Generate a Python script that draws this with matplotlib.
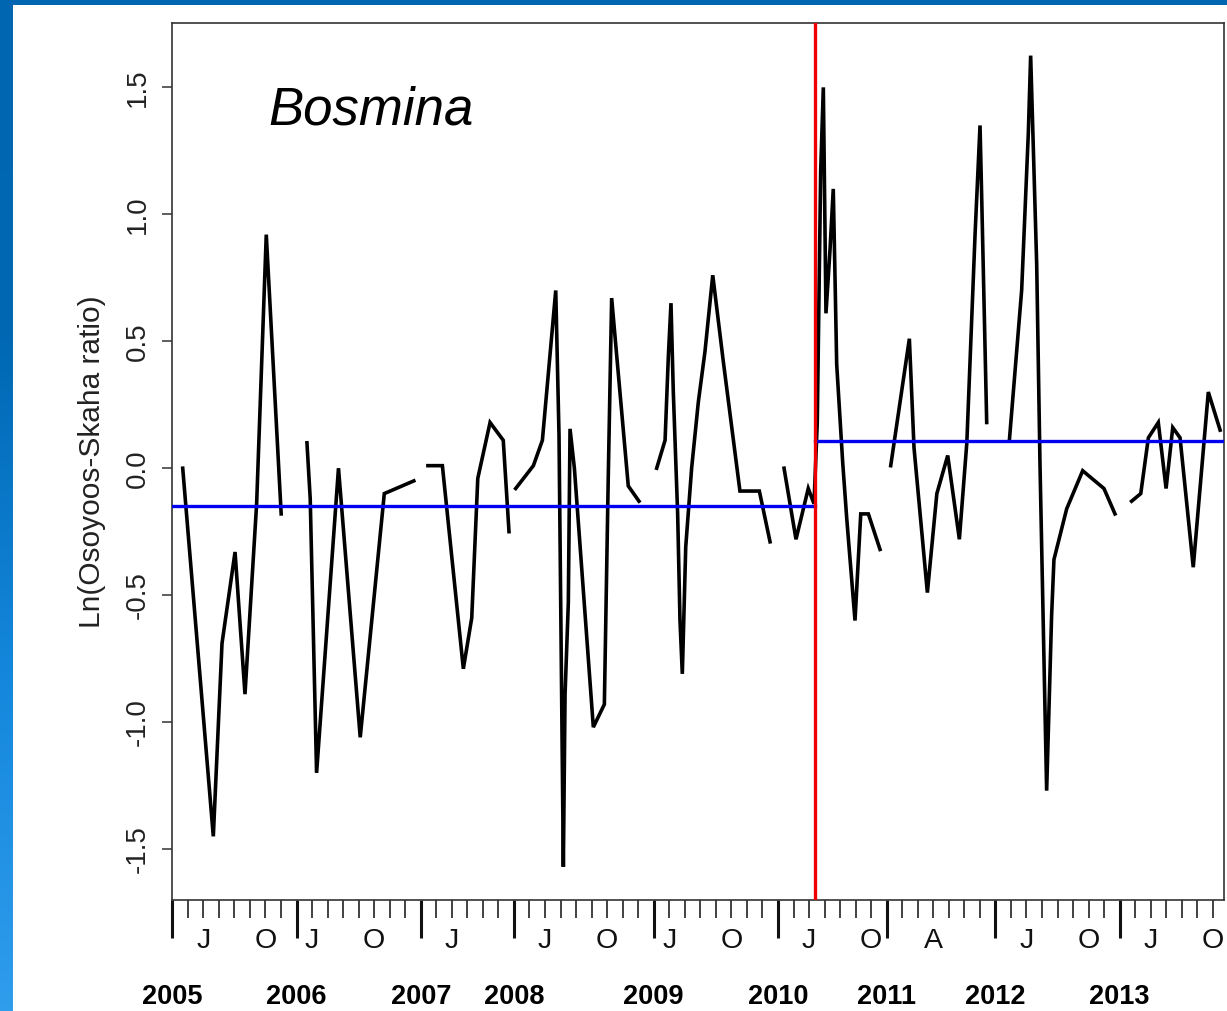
import numpy as np
import matplotlib
matplotlib.use("Agg")
import matplotlib.pyplot as plt
from matplotlib.colors import LinearSegmentedColormap
from matplotlib.transforms import blended_transform_factory
from matplotlib import font_manager

plt.rcParams['font.family'] = ['Liberation Sans', 'DejaVu Sans']

# sample index (position on the axis) and log ratio; None marks a gap in the series
idx = [0.67, 2.64, 3.20, 4.04, 4.68, 5.43, 6.05, 7.01, None,
       8.67, 8.88, 9.29, 10.70, 12.10, 13.65, 15.55, None,
       16.46, 17.39, 18.74, 19.28, 19.67, 20.46, 21.31, 21.68, None,
       22.11, 23.25, 23.83, 24.69, 24.90, 25.18, 25.29, 25.50, 25.61, 25.89,
       27.11, 27.82, 28.07, 28.29, 28.62, 29.36, 30.05, None,
       31.19, 31.73, 31.94, 32.11, 32.26, 32.54, 32.69, 32.84, 33.06, 33.44,
       33.87, 34.30, 34.80, 35.48, 36.55, 37.80, 38.49, None,
       39.39, 40.16, 40.95, 41.32, 41.53, 41.75, 41.92, 42.09, 42.35, 42.56,
       42.67, 42.78, 43.17, 43.43, 43.96, 44.33, 44.82, 45.57, None,
       46.26, 47.46, 47.76, 48.62, 49.23, 49.93, 50.68, 51.16, 51.69, 52.01,
       52.12, 52.44, None,
       53.90, 54.69, 55.12, 55.27, 55.66, 55.87, 56.30, 56.62, 56.77, 57.59,
       58.62, 59.99, 60.70, None,
       61.77, 62.36, 62.85, 63.49, 63.99, 64.42, 64.89, 65.74, 66.71, 67.47]
ratio = [0.00, -1.45, -0.69, -0.33, -0.89, -0.14, 0.92, -0.18, None,
         0.10, -0.12, -1.20, 0.00, -1.06, -0.10, -0.05, None,
         0.01, 0.01, -0.79, -0.59, -0.04, 0.18, 0.11, -0.25, None,
         -0.08, 0.01, 0.11, 0.70, 0.13, -1.57, -0.89, -0.53, 0.155, 0.00,
         -1.02, -0.93, -0.04, 0.67, 0.44, -0.07, -0.13, None,
         0.00, 0.11, 0.44, 0.65, 0.30, -0.18, -0.60, -0.81, -0.31, 0.00,
         0.26, 0.46, 0.76, 0.42, -0.09, -0.09, -0.29, None,
         0.00, -0.28, -0.08, -0.14, 0.18, 1.17, 1.50, 0.61, 0.86, 1.10,
         0.76, 0.41, 0.02, -0.20, -0.60, -0.18, -0.18, -0.32, None,
         0.01, 0.51, 0.08, -0.49, -0.10, 0.05, -0.28, 0.10, 0.92, 1.35,
         1.06, 0.18, None,
         0.11, 0.70, 1.32, 1.625, 0.80, 0.02, -1.27, -0.58, -0.36, -0.16,
         -0.01, -0.08, -0.18, None,
         -0.13, -0.10, 0.12, 0.18, -0.08, 0.16, 0.12, -0.39, 0.30, 0.15]

break_idx = 41.38
mean_before = -0.15
mean_after = 0.107

year_pos = [0, 8, 16, 22, 31, 39, 46, 53, 61]
year_lab = ['2005', '2006', '2007', '2008', '2009', '2010', '2011', '2012', '2013']
month_pos = [2, 6, 9, 13, 18, 24, 28, 32, 36, 41, 45, 49, 55, 59, 63, 67]
month_lab = ['J', 'O', 'J', 'O', 'J', 'J', 'O', 'J', 'O', 'J', 'O', 'A', 'J', 'O', 'J', 'O']
n_ticks = 68

y_ticks = [-1.5, -1.0, -0.5, 0.0, 0.5, 1.0, 1.5]
y_tick_lab = ['-1.5', '-1.0', '-0.5', '0.0', '0.5', '1.0', '1.5']

# narrow bold face for the year row, if the system has it
names = {f.name for f in font_manager.fontManager.ttflist}
year_font = 'Liberation Sans Narrow' if 'Liberation Sans Narrow' in names else 'Liberation Sans'
year_size = 22 if year_font == 'Liberation Sans Narrow' else 19.5

W, H = 1227, 1011
fig = plt.figure(figsize=(W / 100, H / 100), dpi=100)
fig.patch.set_facecolor('white')

# blue frame of the slide
band = fig.add_axes([0, 0, 13 / W, 1])
cm = LinearSegmentedColormap.from_list('slide', ['#0066b2', '#0068b4', '#1487dc', '#2f9cec'])
band.imshow(np.linspace(0, 1, 200)[:, None], aspect='auto', cmap=cm, extent=[0, 1, 1, 0])
band.axis('off')
top = fig.add_axes([0, 1 - 5 / H, 1, 5 / H])
top.set_facecolor('#0066b2')
top.set_xticks([]); top.set_yticks([])
for s in top.spines.values():
    s.set_visible(False)

ax = fig.add_axes([172 / W, 1 - 900 / H, 1052 / W, 876.5 / H])
x = np.array([np.nan if v is None else v for v in idx], dtype=float)
y = np.array([np.nan if v is None else v for v in ratio], dtype=float)
ax.plot(x, y, color='black', lw=2.6, solid_joinstyle='miter', zorder=3)
ax.plot([-1, break_idx], [mean_before, mean_before], color='#0000ee', lw=2.4, zorder=4)
ax.plot([break_idx, 70], [mean_after, mean_after], color='#0000ee', lw=2.4, zorder=4)
ax.axvline(break_idx, color='#ee0000', lw=2.4, zorder=5)

ax.set_xlim(-0.02, 67.72)
ax.set_ylim(-1.7007, 1.7515)
for s in ax.spines.values():
    s.set_color('#333333')
    s.set_linewidth(1.2)

ax.set_yticks(y_ticks)
ax.set_yticklabels(y_tick_lab, rotation=90, va='center', fontsize=20, color='#222222')
ax.tick_params(axis='y', length=7, width=1.1, color='#333333', pad=8)

ax.set_xticks(year_pos)
ax.set_xticklabels([])
ax.set_xticks(range(n_ticks), minor=True)
ax.tick_params(axis='x', which='major', length=27, width=2.2, color='#111111')
ax.tick_params(axis='x', which='minor', length=13, width=1.3, color='#333333')

tr = blended_transform_factory(ax.transData, ax.transAxes)
for p, lab in zip(month_pos, month_lab):
    ax.text(p, -0.0468, lab, transform=tr, ha='center', va='center', fontsize=20.5, color='#111111')
for p, lab in zip(year_pos, year_lab):
    ax.text(p, -0.1107, lab, transform=tr, ha='center', va='center', fontsize=year_size,
            fontweight='bold', family=[year_font, 'DejaVu Sans'], color='black')

ax.set_ylabel('Ln(Osoyoos-Skaha ratio)', fontsize=21.5, color='#222222', labelpad=14)
ax.text(0.0913, 0.885, 'Bosmina', transform=ax.transAxes, fontsize=38, style='italic',
        ha='left', va='baseline', color='black')

fig.savefig('out.png', dpi=100)
